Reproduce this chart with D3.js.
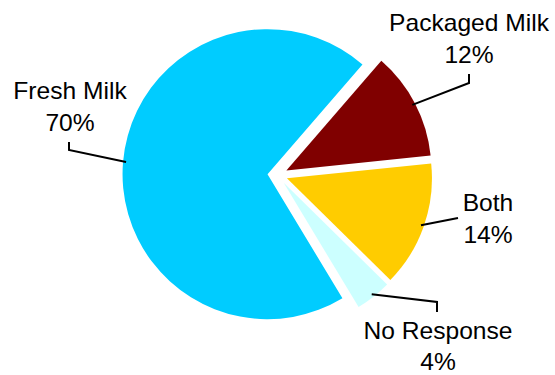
<!DOCTYPE html>
<html>
<head>
<meta charset="utf-8">
<script src="https://cdn.jsdelivr.net/npm/d3@7/dist/d3.min.js"></script>
<style>
  html, body { margin: 0; padding: 0; background: #fff; }
  svg { display: block; }
  text { font-family: "Liberation Sans", Arial, sans-serif; fill: #000; }
</style>
</head>
<body>
<script>
// Milk preference survey shares (%)
const categories = ["Packaged Milk", "Both", "No Response", "Fresh Milk"];
const values = [12, 14, 4, 70];
const colors = ["#800000", "#FFCC00", "#CCFFFF", "#00CCFF"];
const valueLabels = ["12%", "14%", "4%", "70%"];

const width = 555, height = 375;
const cx = 277.5, cy = 175, radius = 145, explode = 10;

// label anchor (text centre, first baseline, line gap) and elbow for each leader line
const labelPos = [
  { x: 469, y: 31, gap: 32, elbow: [469, 83], tip: [469, 74] },
  { x: 488, y: 211, gap: 32, elbow: [458, 218], tip: null },
  { x: 438, y: 339, gap: 31, elbow: [437, 302], tip: [437, 312] },
  { x: 70, y: 99, gap: 32, elbow: [69, 150], tip: [69, 142] }
];

const svg = d3.select("body").append("svg")
  .attr("width", width).attr("height", height);

const pie = d3.pie().sort(null).value(d => d)
  .startAngle(40.9 * Math.PI / 180)
  .endAngle(40.9 * Math.PI / 180 + 2 * Math.PI);
const arcs = pie(values);
const arc = d3.arc().innerRadius(0).outerRadius(radius);

function offset(a, r) {
  const m = (a.startAngle + a.endAngle) / 2;
  return [Math.sin(m) * r, -Math.cos(m) * r];
}

const g = svg.append("g").attr("transform", `translate(${cx},${cy})`);

g.selectAll("path.slice").data(arcs).enter().append("path")
  .attr("class", "slice")
  .attr("d", arc)
  .attr("fill", (d, i) => colors[i])
  .attr("transform", d => {
    const [dx, dy] = offset(d, explode);
    return `translate(${dx},${dy})`;
  });

// leader lines from slice edge to label
arcs.forEach((d, i) => {
  const [ox, oy] = offset(d, explode);
  const [ex, ey] = offset(d, radius - 3);
  const start = [cx + ox + ex, cy + oy + ey];
  const pts = [start, labelPos[i].elbow];
  if (labelPos[i].tip) pts.push(labelPos[i].tip);
  svg.append("path")
    .attr("d", d3.line()(pts))
    .attr("fill", "none")
    .attr("stroke", "#000")
    .attr("stroke-width", 2);
});

// category and percentage labels (slightly wide lettering)
categories.forEach((c, i) => {
  const t = svg.append("text")
    .attr("text-anchor", "middle")
    .attr("font-size", 23)
    .attr("transform", `translate(${labelPos[i].x},${labelPos[i].y}) scale(1.07,1)`);
  t.append("tspan").attr("x", 0).attr("y", 0).text(c);
  t.append("tspan").attr("x", 0).attr("y", labelPos[i].gap).text(valueLabels[i]);
});
</script>
</body>
</html>
